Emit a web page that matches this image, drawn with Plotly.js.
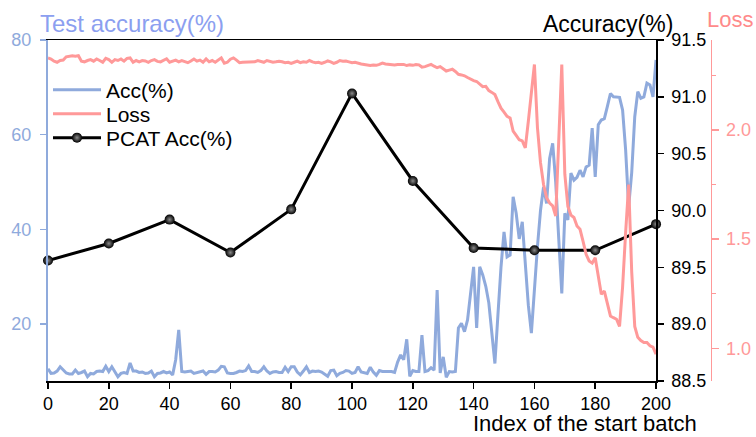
<!DOCTYPE html>
<html>
<head>
<meta charset="utf-8">
<script src="https://cdn.plot.ly/plotly-3.0.1.min.js"></script>
<style>html,body{margin:0;padding:0;background:#fff;}#chart{width:756px;height:437px;}</style>
</head>
<body>
<div id="chart"></div>
<script>
// Index of the start batch for Acc / Loss curves
var batchIndex = [];
for (var i = 0; i <= 200; i++) batchIndex.push(i);

// Test accuracy (%) per start batch (left axis)
var accValues = [
10.6,9.6,9.7,10.1,11.0,10.3,9.7,9.5,9.5,10.3,
9.6,9.8,10.1,8.9,9.6,9.5,10.0,10.1,10.0,11.1,
10.0,11.0,10.0,8.9,9.6,9.8,9.6,11.8,10.1,10.1,
9.8,9.9,9.6,9.7,10.1,8.9,9.6,9.7,10.0,9.7,
9.9,9.3,12.5,18.8,10.0,9.9,10.0,10.1,9.6,9.8,
10.0,10.1,9.4,10.0,10.0,9.9,10.3,11.1,11.0,9.7,
9.6,9.6,9.8,10.1,10.0,10.2,11.2,10.0,10.0,9.8,
10.2,11.0,10.1,9.6,9.9,10.0,9.8,9.8,10.9,10.0,
11.0,11.0,9.9,9.3,10.1,11.0,9.8,10.1,10.0,10.1,
9.9,9.4,9.0,10.2,10.3,9.1,9.6,9.8,10.2,10.1,
9.6,9.8,11.0,9.9,9.8,9.6,10.9,9.9,9.2,10.2,
10.0,10.0,9.9,10.0,9.8,12.0,13.5,12.5,16.8,9.0,
10.2,10.0,10.0,17.7,10.0,10.2,10.8,10.3,27.2,9.7,
13.1,8.8,10.0,9.9,10.0,19.2,20.2,18.4,20.9,26.0,
32.1,19.2,32.1,30.4,28.0,24.5,17.5,11.7,22.0,32.0,
39.5,34.2,34.6,46.9,43.4,38.0,41.6,33.0,24.0,18.1,
28.0,36.4,44.0,49.0,45.5,55.0,58.2,50.0,38.0,26.5,
43.4,42.0,51.9,50.4,51.0,52.5,51.1,53.2,53.6,61.4,
51.1,62.1,63.1,63.4,66.0,68.7,68.0,68.0,67.9,65.2,
56.8,44.8,52.0,63.8,69.1,67.7,68.0,70.9,70.5,68.0,
75.8];

// Loss per start batch (far right axis)
var lossValues = [
2.33,2.325,2.315,2.31,2.318,2.32,2.335,2.338,2.34,2.338,
2.34,2.315,2.312,2.318,2.322,2.315,2.325,2.318,2.31,2.328,
2.322,2.31,2.322,2.318,2.325,2.315,2.328,2.33,2.31,2.318,
2.312,2.318,2.316,2.31,2.318,2.322,2.314,2.312,2.32,2.326,
2.31,2.315,2.32,2.312,2.318,2.313,2.308,2.316,2.325,2.315,
2.32,2.31,2.325,2.312,2.318,2.31,2.322,2.33,2.306,2.31,
2.324,2.33,2.32,2.308,2.31,2.31,2.312,2.31,2.312,2.318,
2.315,2.31,2.318,2.315,2.31,2.312,2.315,2.312,2.308,2.31,
2.305,2.31,2.315,2.308,2.312,2.31,2.318,2.312,2.308,2.31,
2.305,2.31,2.316,2.312,2.305,2.31,2.318,2.315,2.316,2.312,
2.308,2.31,2.305,2.302,2.3,2.298,2.295,2.297,2.296,2.3,
2.306,2.302,2.3,2.3,2.298,2.3,2.299,2.3,2.295,2.298,
2.296,2.3,2.298,2.288,2.29,2.296,2.3,2.292,2.285,2.29,
2.28,2.27,2.274,2.278,2.268,2.255,2.252,2.248,2.24,2.232,
2.226,2.222,2.21,2.198,2.2,2.18,2.172,2.162,2.13,2.1,
2.082,2.062,2.055,1.995,1.975,1.955,1.95,1.918,2.04,2.17,
2.30,2.01,1.85,1.75,1.69,1.665,1.652,1.606,1.95,2.30,
1.797,1.65,1.61,1.599,1.56,1.545,1.49,1.43,1.40,1.39,
1.415,1.34,1.247,1.262,1.20,1.148,1.14,1.133,1.10,1.28,
1.53,1.75,1.35,1.10,1.05,1.035,1.026,1.026,1.011,1.005,
0.973];

// PCAT accuracy (%) at every 20 batches (right axis)
var pcatIndex = [0,20,40,60,80,100,120,140,160,180,200];
var pcatValues = [89.56,89.71,89.92,89.63,90.01,91.03,90.26,89.67,89.65,89.65,89.88];

var FONT = "Liberation Sans, Arial, sans-serif";
var BLUE = "#8faadc";
var PINK = "#ff9999";

var traces = [
  {x: batchIndex, y: accValues, type: "scatter", mode: "lines", name: "Acc(%)",
   line: {color: BLUE, width: 3}, yaxis: "y", legend: "legend"},
  {x: batchIndex, y: lossValues, type: "scatter", mode: "lines", name: "Loss",
   line: {color: PINK, width: 3}, yaxis: "y3", legend: "legend2"},
  {x: pcatIndex, y: pcatValues, type: "scatter", mode: "lines+markers", name: "PCAT Acc(%)",
   line: {color: "#000", width: 3}, cliponaxis: false,
   marker: {color: "#000", size: 10, gradient: {type: "radial", color: "#8a8a8a"}}, yaxis: "y2", legend: "legend3"}
];

function legendAt(yTop) {
  return {x: 0.0, y: yTop, xanchor: "left", yanchor: "top", bgcolor: "rgba(0,0,0,0)",
          font: {family: FONT, size: 21, color: "#000"}, itemwidth: 48};
}

var layout = {
  width: 756, height: 437,
  margin: {l: 48, r: 0, t: 40, b: 56},
  paper_bgcolor: "#fff", plot_bgcolor: "#fff",
  font: {family: FONT, size: 18, color: "#000"},
  showlegend: true,
  legend: legendAt(0.9135),
  legend2: legendAt(0.8431),
  legend3: legendAt(0.7727),
  xaxis: {domain: [0, 0.8588], range: [0, 200], tick0: 0, dtick: 20, showgrid: false, zeroline: false,
          showline: true, linecolor: "#000", linewidth: 1.5, mirror: true,
          ticks: "outside", ticklen: 6, tickwidth: 1.5, tickcolor: "#000", ticklabelstandoff: 0,
          tickfont: {family: FONT, size: 18, color: "#000"}},
  yaxis: {range: [8, 80], tick0: 0, dtick: 20, showgrid: false, zeroline: false,
          showline: true, linecolor: BLUE, linewidth: 2,
          ticks: "outside", ticklen: 6, tickwidth: 1.5, tickcolor: BLUE, ticklabelstandoff: 5,
          tickfont: {family: FONT, size: 18, color: BLUE}},
  yaxis2: {overlaying: "y", side: "right", anchor: "x", range: [88.5, 91.5], tick0: 88.5, dtick: 0.5,
           tickformat: ".1f", showgrid: false, zeroline: false,
           showline: true, linecolor: "#000", linewidth: 1.5,
           ticks: "outside", ticklen: 6, tickwidth: 1.5, tickcolor: "#000", ticklabelstandoff: 4,
           tickfont: {family: FONT, size: 18, color: "#000"}},
  yaxis3: {overlaying: "y", side: "right", anchor: "free", position: 0.9364, range: [0.85, 2.412],
           tick0: 0, dtick: 0.5, tickformat: ".1f", showgrid: false, zeroline: false,
           showline: true, linecolor: PINK, linewidth: 1.5,
           ticks: "outside", ticklen: 7, tickwidth: 1.5, tickcolor: PINK, ticklabelstandoff: 3,
           minor: {dtick: 0.25, ticks: "outside", ticklen: 4, tickcolor: PINK, tickwidth: 1.5, showgrid: false},
           tickfont: {family: FONT, size: 18, color: PINK}},
  annotations: [
    {text: "Test accuracy(%)", xref: "paper", yref: "paper", x: -0.0141, y: 1.047,
     xanchor: "left", yanchor: "middle", showarrow: false, font: {family: FONT, size: 24, color: "#8c9ff0"}},
    {text: "Accuracy(%)", xref: "paper", yref: "paper", x: 0.791, y: 1.047,
     xanchor: "center", yanchor: "middle", showarrow: false, font: {family: FONT, size: 23, color: "#000"}},
    {text: "Loss", xref: "paper", yref: "paper", x: 0.9294, y: 1.0587, borderpad: 0,
     xanchor: "left", yanchor: "middle", showarrow: false, font: {family: FONT, size: 22, color: "#ff8a8a"}},
    {text: "Index of the start batch", xref: "paper", yref: "paper", x: 0.7585, y: -0.1232, borderpad: 0,
     xanchor: "center", yanchor: "middle", showarrow: false, font: {family: FONT, size: 22, color: "#000"}}
  ]
};

Plotly.newPlot("chart", traces, layout, {displayModeBar: false, staticPlot: true});
</script>
</body>
</html>
